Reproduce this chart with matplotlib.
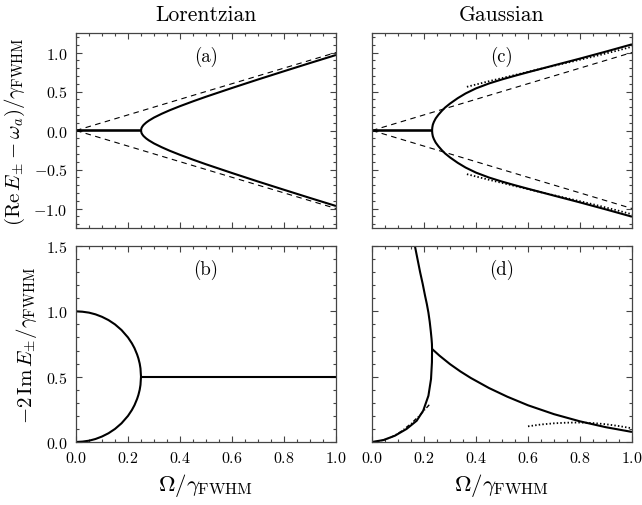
import numpy as np
import matplotlib
matplotlib.use("Agg")
import matplotlib.pyplot as plt
from matplotlib.ticker import MultipleLocator

plt.rcParams['font.family'] = 'serif'
plt.rcParams['font.serif'] = ['cmr10', 'DejaVu Serif']
plt.rcParams['mathtext.fontset'] = 'cm'
plt.rcParams['axes.formatter.use_mathtext'] = True
plt.rcParams['axes.unicode_minus'] = True

# ---- values ----
# Lorentzian, real part (upper branch; lower branch is its mirror)
lor_re_x = [0.0, 0.25, 0.252, 0.255, 0.26, 0.27, 0.28, 0.30, 0.33, 0.36, 0.40, 0.45,
            0.50, 0.60, 0.70, 0.80, 0.90, 1.00]
lor_re_y = [0.0, 0.0, 0.032, 0.05, 0.072, 0.102, 0.126, 0.166, 0.215, 0.259, 0.312, 0.374,
            0.433, 0.545, 0.654, 0.760, 0.865, 0.968]
# free-atom reference lines (dashed)
ref_x = [0.0, 1.0]
ref_y = [0.0, 1.0]

# Lorentzian, imaginary part
lor_im_x = [0.0, 0.025, 0.05, 0.075, 0.10, 0.125, 0.15, 0.175, 0.20, 0.215, 0.225,
            0.235, 0.24, 0.245, 0.248, 0.25,
            0.248, 0.245, 0.24, 0.235, 0.225, 0.215, 0.20, 0.175, 0.15, 0.125,
            0.10, 0.075, 0.05, 0.025, 0.0]
lor_im_y = [1.0, 0.997, 0.99, 0.977, 0.958, 0.933, 0.90, 0.857, 0.80, 0.755, 0.718,
            0.670, 0.640, 0.600, 0.563, 0.50,
            0.437, 0.400, 0.360, 0.330, 0.282, 0.245, 0.20, 0.143, 0.10, 0.067,
            0.042, 0.023, 0.010, 0.003, 0.0]
lor_flat_x = [0.25, 1.0]
lor_flat_y = [0.5, 0.5]

# Gaussian, real part (upper branch)
gau_re_x = [0.0, 0.231, 0.232, 0.234, 0.238, 0.245, 0.255, 0.268, 0.281, 0.30, 0.33,
            0.36, 0.40, 0.45, 0.50, 0.55, 0.60, 0.70, 0.80, 0.90, 1.00]
gau_re_y = [0.0, 0.0, 0.04, 0.075, 0.11, 0.155, 0.20, 0.25, 0.294, 0.345, 0.415,
            0.475, 0.54, 0.603, 0.655, 0.702, 0.747, 0.835, 0.922, 1.012, 1.105]
# large-coupling asymptote (dotted)
gau_re_asym_x = [0.365, 0.45, 0.55, 0.65, 0.75, 0.85, 0.95, 1.00]
gau_re_asym_y = [0.56, 0.632, 0.712, 0.792, 0.868, 0.946, 1.03, 1.075]

# Gaussian, imaginary part
gau_im_x = [0.0, 0.044, 0.088, 0.133, 0.172, 0.197, 0.217, 0.227, 0.2305, 0.231,
            0.2305, 0.229, 0.226, 0.222, 0.217, 0.211, 0.204, 0.195, 0.185, 0.175, 0.165]
gau_im_y = [0.0, 0.015, 0.048, 0.10, 0.163, 0.24, 0.354, 0.482, 0.61, 0.712,
            0.75, 0.79, 0.85, 0.92, 0.99, 1.055, 1.12, 1.21, 1.30, 1.40, 1.50]
gau_im2_x = [0.231, 0.26, 0.30, 0.34, 0.38, 0.45, 0.52, 0.60, 0.70, 0.80, 0.90, 1.00]
gau_im2_y = [0.712, 0.66, 0.596, 0.54, 0.49, 0.413, 0.347, 0.281, 0.213, 0.158, 0.113, 0.077]
# small-coupling approximation (dash-dot)
gau_small_x = [0.0, 0.03, 0.07, 0.11, 0.15, 0.185, 0.223]
gau_small_y = [0.0, 0.006, 0.032, 0.078, 0.14, 0.207, 0.291]
# large-coupling approximation (dotted)
gau_large_x = [0.60, 0.65, 0.70, 0.75, 0.80, 0.85, 0.90, 0.95, 1.00]
gau_large_y = [0.12, 0.134, 0.143, 0.148, 0.149, 0.145, 0.136, 0.122, 0.105]

fig = plt.figure(figsize=(6.42, 5.06), dpi=100)
W, H = 642, 506
ax_a = fig.add_axes([76 / W, (H - 229) / H, 260 / W, 195 / H])
ax_c = fig.add_axes([372 / W, (H - 229) / H, 260 / W, 195 / H])
ax_b = fig.add_axes([76 / W, (H - 443) / H, 260 / W, 196 / H])
ax_d = fig.add_axes([372 / W, (H - 443) / H, 260 / W, 196 / H])

solid = dict(color='black', lw=1.5, solid_capstyle='butt')
dashed = dict(color='black', lw=0.8, dashes=(5, 4))
dotted = dict(color='black', lw=1.3, dashes=(0.8, 1.2))

# (a)
for s in (1, -1):
    ax_a.plot(ref_x, [s * v for v in ref_y], **dashed)
    ax_a.plot(lor_re_x, [s * v for v in lor_re_y], **solid)
# (c)
for s in (1, -1):
    ax_c.plot(ref_x, [s * v for v in ref_y], **dashed)
    ax_c.plot(gau_re_asym_x, [s * v for v in gau_re_asym_y], **dotted)
    ax_c.plot(gau_re_x, [s * v for v in gau_re_y], **solid)
# (b)
ax_b.plot(lor_im_x, lor_im_y, **solid)
ax_b.plot(lor_flat_x, lor_flat_y, **solid)
# (d)
ax_d.plot(gau_im_x, gau_im_y, **solid)
ax_d.plot(gau_im2_x, gau_im2_y, **solid)
ax_d.plot(gau_small_x, gau_small_y, color='black', lw=1.0, dashes=(3, 1.5, 0.8, 1.5))
ax_d.plot(gau_large_x, gau_large_y, **dotted)

for ax in (ax_a, ax_c):
    ax.set_ylim(-1.25, 1.25)
    ax.tick_params(labelbottom=False)
for ax in (ax_b, ax_d):
    ax.set_ylim(0, 1.5)
    ax.set_xlabel(r'$\Omega/\gamma_{\mathrm{FWHM}}$', fontsize=16.5, labelpad=4)

for ax in (ax_a, ax_b, ax_c, ax_d):
    ax.set_xlim(0, 1)
    ax.xaxis.set_major_locator(MultipleLocator(0.2))
    ax.xaxis.set_minor_locator(MultipleLocator(0.05))
    ax.yaxis.set_major_locator(MultipleLocator(0.5))
    ax.yaxis.set_minor_locator(MultipleLocator(0.1))
    ax.tick_params(which='both', direction='in', top=True, right=True,
                   labelsize=11.5, color='#444444', width=0.8)
    ax.tick_params(which='major', length=4, pad=6)
    ax.tick_params(which='minor', length=2)
    for sp in ax.spines.values():
        sp.set_color('#444444')
        sp.set_linewidth(0.9)

for ax in (ax_c, ax_d):
    ax.tick_params(labelleft=False)

ax_a.set_ylabel(r'$(\mathrm{Re}\,E_{\pm}-\omega_a)/\gamma_{\mathrm{FWHM}}$', fontsize=15, labelpad=5)
ax_b.set_ylabel(r'$-2\,\mathrm{Im}\,E_{\pm}/\gamma_{\mathrm{FWHM}}$', fontsize=15, labelpad=5)

ax_a.set_title('Lorentzian', fontsize=15.5, pad=9.5)
ax_c.set_title('Gaussian', fontsize=15.5, pad=9.5)

for ax, lab in ((ax_a, '(a)'), (ax_b, '(b)'), (ax_c, '(c)'), (ax_d, '(d)')):
    ax.text(0.5, 0.885, lab, transform=ax.transAxes, ha='center', va='center', fontsize=13.5)

fig.savefig('out.png', dpi=100)
